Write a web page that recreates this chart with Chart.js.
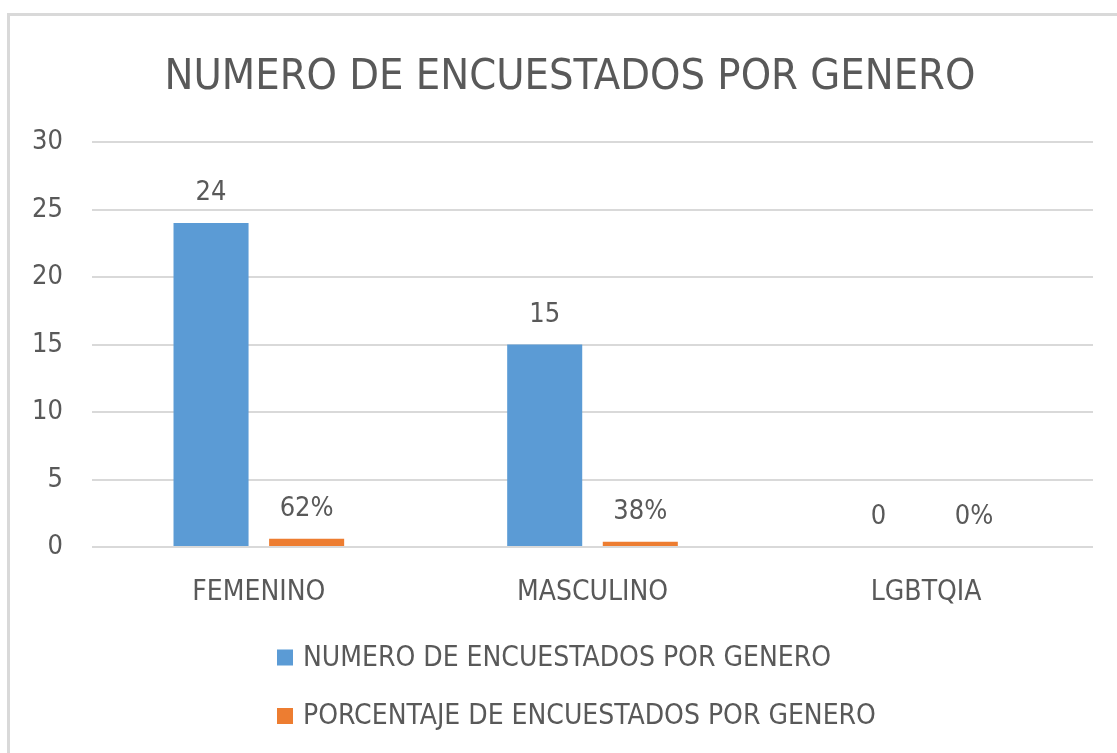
<!DOCTYPE html>
<html>
<head>
<meta charset="utf-8">
<script src="https://cdn.jsdelivr.net/npm/chart.js@4/dist/chart.umd.min.js"></script>
<style>
html,body{margin:0;padding:0;background:#fff;overflow:hidden}
#c{display:block}
</style>
</head>
<body>
<canvas id="c" width="1117" height="753"></canvas>
<script>
const categories = ['FEMENINO', 'MASCULINO', 'LGBTQIA'];
const countLabel = 'NUMERO DE ENCUESTADOS POR GENERO';
const pctLabel = 'PORCENTAJE DE ENCUESTADOS POR GENERO';
const counts = [24, 15, 0];
const percents = [0.62, 0.38, 0];
const yTicks = [0, 5, 10, 15, 20, 25, 30];
const titleText = 'NUMERO DE ENCUESTADOS POR GENERO';

const FONT = "'Liberation Sans Narrow', 'DejaVu Sans Condensed', Roboto, sans-serif";
const TEXT = '#595959';
const GRID = '#d9d9d9';

const frame = {
  id: 'frame',
  beforeDraw(chart) {
    const ctx = chart.ctx;
    ctx.save();
    ctx.fillStyle = '#ffffff';
    ctx.fillRect(0, 0, chart.width, chart.height);
    ctx.fillStyle = GRID;
    ctx.fillRect(7, 13, chart.width - 7, 3);
    ctx.fillRect(7, 13, 3, chart.height - 13);
    ctx.restore();
  }
};

const chartTitle = {
  id: 'chartTitle',
  afterDraw(chart) {
    const ctx = chart.ctx;
    ctx.save();
    ctx.font = '43px ' + FONT;
    ctx.fillStyle = TEXT;
    ctx.textAlign = 'center';
    ctx.textBaseline = 'alphabetic';
    ctx.fillText(titleText, 570, 89);
    ctx.restore();
  }
};

const valueLabels = {
  id: 'valueLabels',
  afterDatasetsDraw(chart) {
    const ctx = chart.ctx;
    ctx.save();
    ctx.font = '27px ' + FONT;
    ctx.fillStyle = TEXT;
    ctx.textAlign = 'center';
    ctx.textBaseline = 'alphabetic';
    chart.data.datasets.forEach((ds, di) => {
      const meta = chart.getDatasetMeta(di);
      meta.data.forEach((el, i) => {
        const v = ds.data[i];
        const txt = di === 1 ? Math.round(v * 100) + '%' : String(v);
        ctx.fillText(txt, el.x, el.y - 23);
      });
    });
    ctx.restore();
  }
};

const bottomLegend = {
  id: 'bottomLegend',
  afterDraw(chart) {
    const ctx = chart.ctx;
    const base = chart.chartArea.bottom;
    const rows = [base + 110.5, base + 169];
    ctx.save();
    ctx.font = '28px ' + FONT;
    ctx.textBaseline = 'middle';
    ctx.textAlign = 'left';
    chart.data.datasets.forEach((ds, di) => {
      const y = rows[di];
      ctx.fillStyle = ds.backgroundColor;
      ctx.fillRect(277, y - 8, 16, 16);
      ctx.fillStyle = TEXT;
      ctx.fillText(ds.label, 303, y + 1);
    });
    ctx.restore();
  }
};

new Chart(document.getElementById('c'), {
  type: 'bar',
  data: {
    labels: categories,
    datasets: [
      { label: countLabel, data: counts, backgroundColor: '#5b9bd5' },
      { label: pctLabel, data: percents, backgroundColor: '#ed7d31' }
    ]
  },
  options: {
    responsive: false,
    animation: false,
    devicePixelRatio: 1,
    categoryPercentage: 0.573,
    barPercentage: 0.785,
    layout: { padding: { left: 23, right: 24, top: 142, bottom: 0 } },
    plugins: {
      legend: { display: false },
      tooltip: { enabled: false },
      title: { display: false }
    },
    scales: {
      x: {
        grid: { display: false },
        border: { display: false },
        ticks: { color: TEXT, font: { family: FONT, size: 28 }, padding: 21 },
        afterFit(scale) { scale.height = 206; }
      },
      y: {
        min: 0,
        max: 30,
        afterBuildTicks(scale) { scale.ticks = yTicks.map(v => ({ value: v })); },
        afterFit(scale) { scale.width = 69; },
        grid: { color: GRID, lineWidth: 2, drawTicks: false },
        border: { display: false },
        ticks: { color: TEXT, font: { family: FONT, size: 27 }, padding: 29 }
      }
    }
  },
  plugins: [frame, chartTitle, valueLabels, bottomLegend]
});
</script>
</body>
</html>
